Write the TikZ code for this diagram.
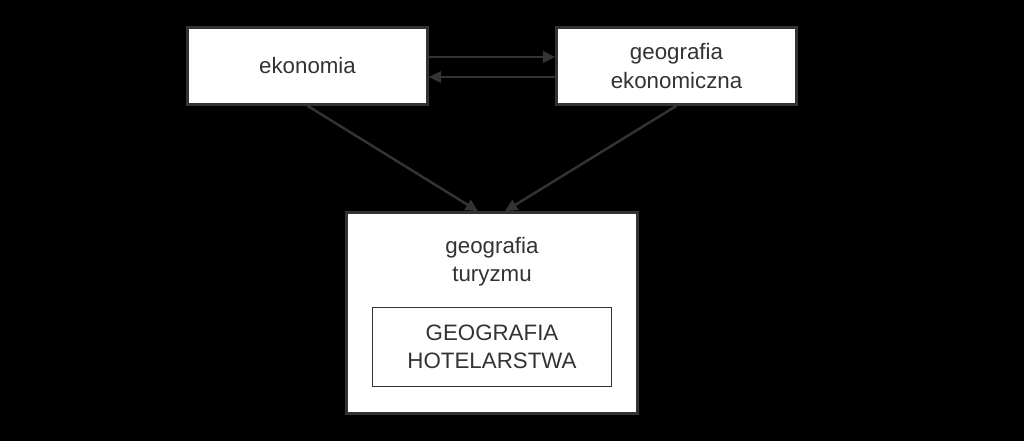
\documentclass[tikz,border=0pt]{standalone}
\usepackage{fontspec}
\setmainfont{Liberation Sans}
\usepackage{tikz}
\usetikzlibrary{arrows.meta, positioning}
\definecolor{ramka}{HTML}{333333}
\tikzset{
  pole/.style={draw=ramka, fill=white, line width=1.5pt, align=center,
    font=\fontsize{12.7}{16}\selectfont, text=ramka},
  strz/.style={draw=ramka, line width=1.4pt, -{Triangle[length=7pt,width=6.5pt]}}
}
\begin{document}
\begin{tikzpicture}[x=0.02cm, y=-0.02cm]
        % tło
        \fill[black] (0,0) rectangle (1024,441);
        % górne pola
        \node[pole, minimum width=4.8cm, minimum height=1.54cm] (eko) at (307.5,66) {ekonomia};
        \node[pole, minimum width=4.8cm, minimum height=1.54cm] (geo) at (676.5,66) {geografia\\ekonomiczna};
        % pole dolne
        \node[pole, minimum width=5.82cm, minimum height=4.02cm] (tur) at (492,313) {};
        \node[align=center, font=\fontsize{12.7}{16}\selectfont, text=ramka] (turt) at (492,262) {geografia\\turyzmu};
        \node[pole, line width=0.9pt, minimum width=4.78cm, minimum height=1.58cm] (hot) at (492,347) {GEOGRAFIA\\HOTELARSTWA};
        % strzałki
        \draw[strz] ([yshift=0.18cm]eko.east) -- ([yshift=0.18cm]geo.west);
        \draw[strz] ([yshift=-0.22cm]geo.west) -- ([yshift=-0.22cm]eko.east);
        \draw[strz] (eko.south) -- ([xshift=-0.28cm]tur.north);
        \draw[strz] (geo.south) -- ([xshift=0.26cm]tur.north);
    \end{tikzpicture}
\end{document}
